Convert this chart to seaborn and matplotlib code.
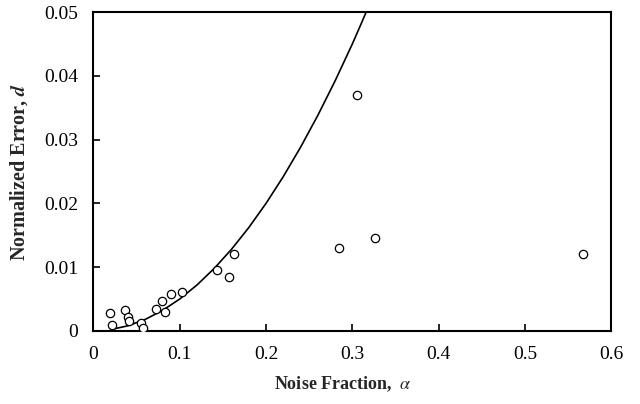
import matplotlib
matplotlib.use("Agg")
import matplotlib.pyplot as plt
import seaborn as sns
import pandas as pd

# Measured data points (open circles)
alpha_pts = [0.019, 0.021, 0.0365, 0.040, 0.041, 0.055, 0.057, 0.072, 0.079, 0.083,
             0.090, 0.103, 0.143, 0.157, 0.163, 0.284, 0.306, 0.326, 0.567]
d_pts = [0.0028, 0.0010, 0.0033, 0.0021, 0.0016, 0.0012, 0.0004, 0.0034, 0.0047, 0.0029,
         0.0058, 0.0061, 0.0096, 0.0085, 0.0121, 0.0130, 0.0370, 0.0145, 0.0121]

# Curve
alpha_curve = [0.020, 0.040, 0.060, 0.080, 0.100, 0.120, 0.140, 0.160, 0.180, 0.200,
               0.220, 0.240, 0.260, 0.280, 0.290, 0.300, 0.310, 0.316]
d_curve = [0.0002, 0.0008, 0.0018, 0.0032, 0.0050, 0.0072, 0.0098, 0.0128, 0.0162, 0.0200,
           0.0242, 0.0288, 0.0338, 0.0392, 0.0421, 0.0450, 0.0481, 0.0500]

x_ticks = [0, 0.1, 0.2, 0.3, 0.4, 0.5, 0.6]
x_tick_labels = ["0", "0.1", "0.2", "0.3", "0.4", "0.5", "0.6"]
y_ticks = [0, 0.01, 0.02, 0.03, 0.04, 0.05]
y_tick_labels = ["0", "0.01", "0.02", "0.03", "0.04", "0.05"]

sns.set_style("ticks")
plt.rcParams["font.family"] = ["Liberation Serif", "DejaVu Serif"]
plt.rcParams["mathtext.fontset"] = "stix"

pts = pd.DataFrame({"alpha": alpha_pts, "d": d_pts})
crv = pd.DataFrame({"alpha": alpha_curve, "d": d_curve})

fig = plt.figure(figsize=(6.4, 4.04), dpi=100)
ax = fig.add_axes([0.146, 0.181, 0.809, 0.789])

sns.lineplot(data=crv, x="alpha", y="d", ax=ax, color="black", linewidth=1.2,
             sort=True, estimator=None)
sns.scatterplot(data=pts, x="alpha", y="d", ax=ax, marker="o", s=36,
                facecolor="white", edgecolor="black", linewidth=0.9, zorder=3)

ax.set_xlim(0, 0.6)
ax.set_ylim(0, 0.05)
ax.set_xticks(x_ticks)
ax.set_xticklabels(x_tick_labels)
ax.set_yticks(y_ticks)
ax.set_yticklabels(y_tick_labels)
ax.tick_params(direction="in", length=5, width=1.2, labelsize=14, colors="black")
ax.tick_params(axis="y", pad=11)
ax.tick_params(axis="x", pad=11)
for sp in ax.spines.values():
    sp.set_visible(True)
    sp.set_linewidth(1.5)
    sp.set_color("black")

ax.set_xlabel(r"Noise Fraction,  $\alpha$", fontsize=13, fontweight="bold")
ax.xaxis.set_label_coords(0.482, -0.138)
ax.set_ylabel(r"Normalized Error, $\mathbfit{d}$", fontsize=14.5, fontweight="bold",
              labelpad=10)

fig.savefig("out.png", dpi=100)
